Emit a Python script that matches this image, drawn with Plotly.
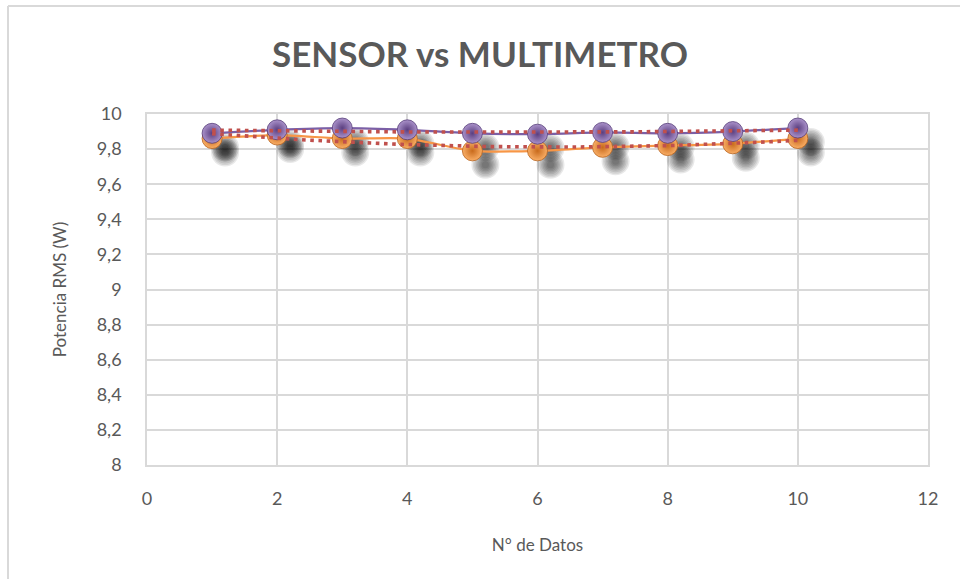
import numpy as np
import plotly.graph_objects as go

# ---- data ----
n_datos = [1, 2, 3, 4, 5, 6, 7, 8, 9, 10]
sensor = [9.86, 9.88, 9.86, 9.86, 9.79, 9.79, 9.81, 9.82, 9.83, 9.86]
multimetro = [9.89, 9.91, 9.92, 9.91, 9.89, 9.885, 9.895, 9.89, 9.90, 9.92]
x_ticks = [0, 2, 4, 6, 8, 10, 12]
y_ticks = [8, 8.2, 8.4, 8.6, 8.8, 9, 9.2, 9.4, 9.6, 9.8, 10]
y_tick_text = ["8", "8,2", "8,4", "8,6", "8,8", "9", "9,2", "9,4", "9,6", "9,8", "10"]

TITLE = "SENSOR vs MULTIMETRO"
X_TITLE = "N° de Datos"
Y_TITLE = "Potencia RMS (W)"

W, H = 960, 579
ML, MR, MT, MB = 147, 32, 114, 114
PW = W - ML - MR
PH = H - MT - MB
XR = [0, 12]
YR = [8, 10]
FONT = "Lato"
GREY = "#595959"
GRID = "#D9D9D9"

# shadow offset in pixels (right, down)
sdx, sdy = 13, 14
xu = PW / (XR[1] - XR[0])
yu = PH / (YR[1] - YR[0])
XR_sh = [XR[0] - sdx / xu, XR[1] - sdx / xu]
YR_sh = [YR[0] + sdy / yu, YR[1] + sdy / yu]

fig = go.Figure()

# base axis placeholder trace
fig.add_trace(go.Scatter(x=[], y=[], xaxis="x", yaxis="y", showlegend=False))

# soft shadows (stacked translucent discs to imitate blur)
for series in (sensor, multimetro):
    for size in (28, 25, 22, 19, 16, 13, 10, 7):
        fig.add_trace(go.Scatter(
            x=n_datos, y=series, mode="markers", xaxis="x2", yaxis="y2",
            marker=dict(size=size, color="rgba(0,0,0,0.09)", line=dict(width=0)),
            showlegend=False, hoverinfo="skip"))

# main series
fig.add_trace(go.Scatter(
    x=n_datos, y=sensor, mode="lines+markers", name="Sensor",
    xaxis="x3", yaxis="y3",
    line=dict(color="#F79646", width=2.2, shape="spline", smoothing=0.6),
    marker=dict(size=20, color="#F9AE66",
                gradient=dict(type="radial", color="#C86A1C"),
                line=dict(width=0.8, color="#B8621C"))))
fig.add_trace(go.Scatter(
    x=n_datos, y=multimetro, mode="lines+markers", name="Multímetro",
    xaxis="x3", yaxis="y3",
    line=dict(color="#7B5FA6", width=2.2, shape="spline", smoothing=0.6),
    marker=dict(size=20, color="#AA92CA",
                gradient=dict(type="radial", color="#5B3F80"),
                line=dict(width=0.8, color="#563c78"))))

# polynomial trendlines (order 2), computed from the data
xs = np.linspace(n_datos[0], n_datos[-1], 100)
for series in (sensor, multimetro):
    c = np.polyfit(n_datos, series, 2)
    fig.add_trace(go.Scatter(
        x=xs, y=np.polyval(c, xs), mode="lines", xaxis="x3", yaxis="y3",
        line=dict(color="#C0504D", width=3.6, dash="3.6px,4.6px"),
        showlegend=False, hoverinfo="skip"))

axis_common = dict(showgrid=False, zeroline=False, showticklabels=False,
                   showline=False, ticks="")

fig.update_layout(
    width=W, height=H,
    margin=dict(l=ML, r=MR, t=MT, b=MB),
    paper_bgcolor="white", plot_bgcolor="white",
    showlegend=False,
    font=dict(family=FONT, color=GREY, size=18),
    title=dict(text=f"<b>{TITLE}</b>", x=0.5, xanchor="center",
               y=1 - 55 / H, yanchor="middle",
               font=dict(family=FONT, size=35, color=GREY)),
    xaxis=dict(range=XR, tickvals=x_ticks, ticktext=[str(v) for v in x_ticks],
               showgrid=True, gridcolor=GRID, gridwidth=1.5,
               zeroline=False, showline=True, linecolor=GRID, linewidth=1.5,
               mirror=True, ticks="", ticklabelstandoff=17,
               tickfont=dict(size=18, color=GREY),
               title=dict(text=X_TITLE, standoff=31, font=dict(size=17, color=GREY))),
    yaxis=dict(range=YR, tickvals=y_ticks, ticktext=y_tick_text,
               showgrid=True, gridcolor=GRID, gridwidth=1.5,
               zeroline=False, showline=True, linecolor=GRID, linewidth=1.5,
               mirror=True, ticks="", ticklabelstandoff=20,
               tickfont=dict(size=18, color=GREY),
               title=dict(text=Y_TITLE, standoff=26, font=dict(size=17, color=GREY))),
    xaxis2=dict(range=XR_sh, overlaying="x", anchor="y2", **axis_common),
    yaxis2=dict(range=YR_sh, overlaying="y", anchor="x2", **axis_common),
    xaxis3=dict(range=XR, overlaying="x", anchor="y3", **axis_common),
    yaxis3=dict(range=YR, overlaying="y", anchor="x3", **axis_common),
    shapes=[
        dict(type="line", xref="paper", yref="paper",
             x0=(8 - ML) / PW, x1=(8 - ML) / PW,
             y0=(H - MB - 6) / PH, y1=-(MB + 20) / PH,
             line=dict(color=GRID, width=2)),
        dict(type="line", xref="paper", yref="paper",
             x0=(8 - ML) / PW, x1=(W + 20 - ML) / PW,
             y0=(H - MB - 6) / PH, y1=(H - MB - 6) / PH,
             line=dict(color=GRID, width=2)),
    ],
)

fig.write_html("out.html", config={"displayModeBar": False},
               post_script="document.body.style.margin='0';document.body.style.padding='0';")
